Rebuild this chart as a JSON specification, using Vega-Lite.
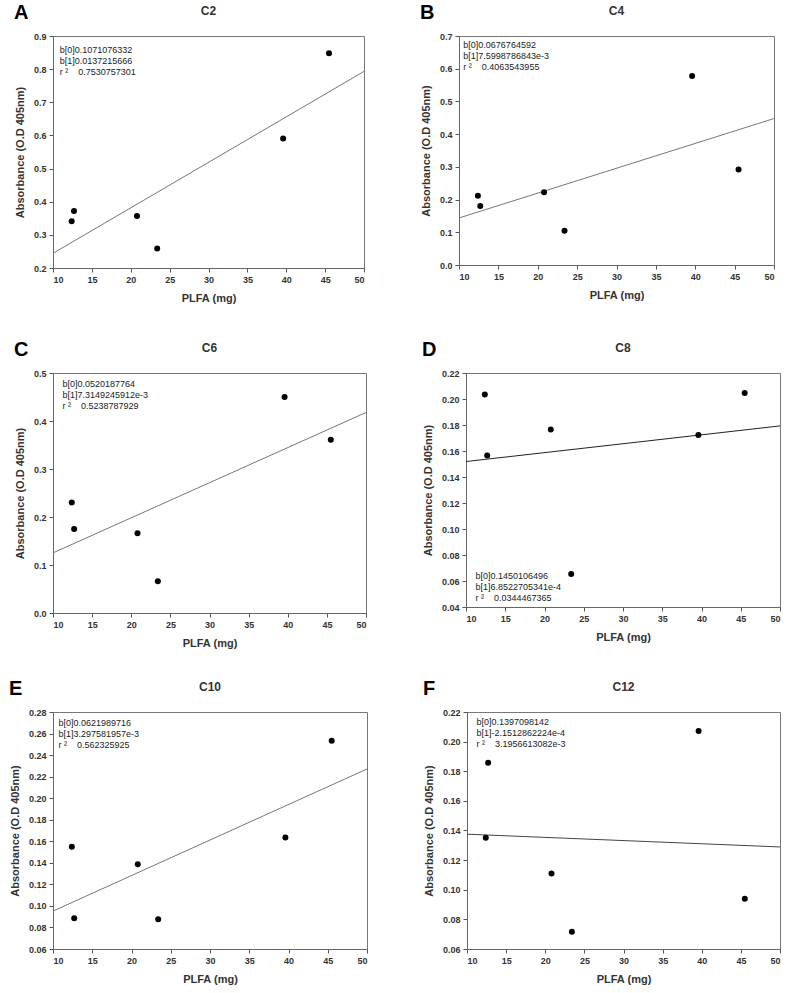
{
  "$schema": "https://vega.github.io/schema/vega-lite/v6.json",
  "background": "white",
  "padding": {"left": 8, "top": 2, "right": 5, "bottom": 2},
  "config": {
    "font": "Liberation Sans",
    "view": {"stroke": "#777", "strokeWidth": 1},
    "axis": {
      "labelFont": "Liberation Sans", "labelFontSize": 9, "labelFontWeight": "bold", "labelColor": "#333", "labelOverlap": false,
      "titleFont": "Liberation Sans", "titleFontSize": 11, "titleFontWeight": "bold", "titleColor": "#333",
      "grid": false, "tickColor": "#555", "domainColor": "#666", "tickSize": 4, "labelPadding": 3, "titlePadding": 8
    },
    "axisX": {"tickCount": 9, "labelOverlap": false},
    "title": {"font": "Liberation Sans", "fontSize": 12, "fontWeight": "bold", "color": "#333"}
  },
  "datasets": {
    "points": [
      {"panel": "C2", "plfa": 12.4, "abs": 0.341}, {"panel": "C2", "plfa": 12.7, "abs": 0.372}, {"panel": "C2", "plfa": 20.8, "abs": 0.357}, {"panel": "C2", "plfa": 23.4, "abs": 0.259}, {"panel": "C2", "plfa": 39.6, "abs": 0.591}, {"panel": "C2", "plfa": 45.5, "abs": 0.848},
      {"panel": "C4", "plfa": 12.4, "abs": 0.212}, {"panel": "C4", "plfa": 12.7, "abs": 0.180}, {"panel": "C4", "plfa": 20.8, "abs": 0.222}, {"panel": "C4", "plfa": 23.4, "abs": 0.105}, {"panel": "C4", "plfa": 39.6, "abs": 0.578}, {"panel": "C4", "plfa": 45.5, "abs": 0.292},
      {"panel": "C6", "plfa": 12.4, "abs": 0.230}, {"panel": "C6", "plfa": 12.7, "abs": 0.175}, {"panel": "C6", "plfa": 20.8, "abs": 0.166}, {"panel": "C6", "plfa": 23.4, "abs": 0.066}, {"panel": "C6", "plfa": 39.6, "abs": 0.450}, {"panel": "C6", "plfa": 45.5, "abs": 0.361},
      {"panel": "C8", "plfa": 12.4, "abs": 0.2035}, {"panel": "C8", "plfa": 12.7, "abs": 0.1565}, {"panel": "C8", "plfa": 20.8, "abs": 0.1765}, {"panel": "C8", "plfa": 23.4, "abs": 0.0653}, {"panel": "C8", "plfa": 39.6, "abs": 0.1724}, {"panel": "C8", "plfa": 45.5, "abs": 0.2046},
      {"panel": "C10", "plfa": 12.4, "abs": 0.1548}, {"panel": "C10", "plfa": 12.7, "abs": 0.0885}, {"panel": "C10", "plfa": 20.8, "abs": 0.1387}, {"panel": "C10", "plfa": 23.4, "abs": 0.0876}, {"panel": "C10", "plfa": 39.6, "abs": 0.1635}, {"panel": "C10", "plfa": 45.5, "abs": 0.2534},
      {"panel": "C12", "plfa": 12.4, "abs": 0.1351}, {"panel": "C12", "plfa": 12.7, "abs": 0.1858}, {"panel": "C12", "plfa": 20.8, "abs": 0.111}, {"panel": "C12", "plfa": 23.4, "abs": 0.0717}, {"panel": "C12", "plfa": 39.6, "abs": 0.2072}, {"panel": "C12", "plfa": 45.5, "abs": 0.0939}
    ],
    "fits": [
      {"panel": "C2", "plfa": 10, "abs": 0.2443}, {"panel": "C2", "plfa": 50, "abs": 0.7932},
      {"panel": "C4", "plfa": 10, "abs": 0.1437}, {"panel": "C4", "plfa": 50, "abs": 0.4477},
      {"panel": "C6", "plfa": 10, "abs": 0.1252}, {"panel": "C6", "plfa": 50, "abs": 0.4177},
      {"panel": "C8", "plfa": 10, "abs": 0.1519}, {"panel": "C8", "plfa": 50, "abs": 0.1793},
      {"panel": "C10", "plfa": 10, "abs": 0.0952}, {"panel": "C10", "plfa": 50, "abs": 0.2271},
      {"panel": "C12", "plfa": 10, "abs": 0.1375}, {"panel": "C12", "plfa": 50, "abs": 0.1289}
    ],
    "stats": [
      {"panel": "C2", "label": "b[0]0.1071076332\nb[1]0.0137215666\nr ²\u00a0\u00a0\u00a0 0.7530757301"},
      {"panel": "C4", "label": "b[0]0.0676764592\nb[1]7.5998786843e-3\nr ²\u00a0\u00a0\u00a0 0.4063543955"},
      {"panel": "C6", "label": "b[0]0.0520187764\nb[1]7.3149245912e-3\nr ²\u00a0\u00a0\u00a0 0.5238787929"},
      {"panel": "C8", "label": "b[0]0.1450106496\nb[1]6.8522705341e-4\nr ²\u00a0\u00a0\u00a0 0.0344467365"},
      {"panel": "C10", "label": "b[0]0.0621989716\nb[1]3.297581957e-3\nr ²\u00a0\u00a0\u00a0 0.562325925"},
      {"panel": "C12", "label": "b[0]0.1397098142\nb[1]-2.1512862224e-4\nr ²\u00a0\u00a0\u00a0 3.1956613082e-3"}
    ]
  },
  "spacing": 35,
  "vconcat": [
    {
      "spacing": 52,
      "hconcat": [
        {
          "title": {"text": "A", "anchor": "start", "fontSize": 20, "fontWeight": "bold", "color": "#000", "offset": -18},
          "vconcat": [{
            "width": 311, "height": 232,
            "title": {"text": "C2", "frame": "group", "offset": 14},
            "layer": [
              {"data": {"name": "fits"}, "transform": [{"filter": "datum.panel === 'C2'"}], "mark": {"type": "line", "color": "#777", "strokeWidth": 1},
               "encoding": {
                 "x": {"field": "plfa", "type": "quantitative", "scale": {"domain": [10, 50], "nice": false}, "axis": {"title": "PLFA (mg)", "values": [10, 15, 20, 25, 30, 35, 40, 45, 50], "tickCount": 9, "labelOverlap": false}},
                 "y": {"field": "abs", "type": "quantitative", "scale": {"domain": [0.2, 0.9], "nice": false, "zero": false}, "axis": {"title": "Absorbance (O.D 405nm)", "values": [0.2, 0.3, 0.4, 0.5, 0.6, 0.7, 0.8, 0.9], "format": ".1f", "labelOverlap": false}}
               }},
              {"data": {"name": "points"}, "transform": [{"filter": "datum.panel === 'C2'"}], "mark": {"type": "circle", "size": 36, "color": "#000", "opacity": 1},
               "encoding": {
                 "x": {"field": "plfa", "type": "quantitative", "axis": {"title": "PLFA (mg)", "values": [10, 15, 20, 25, 30, 35, 40, 45, 50], "tickCount": 9, "labelOverlap": false}},
                 "y": {"field": "abs", "type": "quantitative", "axis": {"title": "Absorbance (O.D 405nm)", "values": [0.2, 0.3, 0.4, 0.5, 0.6, 0.7, 0.8, 0.9], "format": ".1f", "labelOverlap": false}}
               }},
              {"data": {"name": "stats"}, "transform": [{"filter": "datum.panel === 'C2'"}], "mark": {"type": "text", "align": "left", "baseline": "top", "fontSize": 9, "lineHeight": 11, "lineBreak": "\n", "color": "#222"},
               "encoding": {
                 "x": {"datum": 10.86, "type": "quantitative", "axis": {"title": "PLFA (mg)", "values": [10, 15, 20, 25, 30, 35, 40, 45, 50], "tickCount": 9, "labelOverlap": false}},
                 "y": {"datum": 0.87, "type": "quantitative", "axis": {"title": "Absorbance (O.D 405nm)", "values": [0.2, 0.3, 0.4, 0.5, 0.6, 0.7, 0.8, 0.9], "format": ".1f", "labelOverlap": false}},
                 "text": {"field": "label"}}}
            ]
          }]
        },
        {
          "title": {"text": "B", "anchor": "start", "fontSize": 20, "fontWeight": "bold", "color": "#000", "offset": -18},
          "vconcat": [{
            "width": 315, "height": 229,
            "title": {"text": "C4", "frame": "group", "offset": 14},
            "layer": [
              {"data": {"name": "fits"}, "transform": [{"filter": "datum.panel === 'C4'"}], "mark": {"type": "line", "color": "#777", "strokeWidth": 1},
               "encoding": {
                 "x": {"field": "plfa", "type": "quantitative", "scale": {"domain": [10, 50], "nice": false}, "axis": {"title": "PLFA (mg)", "values": [10, 15, 20, 25, 30, 35, 40, 45, 50], "tickCount": 9, "labelOverlap": false}},
                 "y": {"field": "abs", "type": "quantitative", "scale": {"domain": [0, 0.7], "nice": false}, "axis": {"title": "Absorbance (O.D 405nm)", "values": [0, 0.1, 0.2, 0.3, 0.4, 0.5, 0.6, 0.7], "format": ".1f", "labelOverlap": false}}
               }},
              {"data": {"name": "points"}, "transform": [{"filter": "datum.panel === 'C4'"}], "mark": {"type": "circle", "size": 36, "color": "#000", "opacity": 1},
               "encoding": {
                 "x": {"field": "plfa", "type": "quantitative", "axis": {"title": "PLFA (mg)", "values": [10, 15, 20, 25, 30, 35, 40, 45, 50], "tickCount": 9, "labelOverlap": false}},
                 "y": {"field": "abs", "type": "quantitative", "axis": {"title": "Absorbance (O.D 405nm)", "values": [0, 0.1, 0.2, 0.3, 0.4, 0.5, 0.6, 0.7], "format": ".1f", "labelOverlap": false}}
               }},
              {"data": {"name": "stats"}, "transform": [{"filter": "datum.panel === 'C4'"}], "mark": {"type": "text", "align": "left", "baseline": "top", "fontSize": 9, "lineHeight": 11, "lineBreak": "\n", "color": "#222"},
               "encoding": {
                 "x": {"datum": 10.55, "type": "quantitative", "axis": {"title": "PLFA (mg)", "values": [10, 15, 20, 25, 30, 35, 40, 45, 50], "tickCount": 9, "labelOverlap": false}},
                 "y": {"datum": 0.685, "type": "quantitative", "axis": {"title": "Absorbance (O.D 405nm)", "values": [0, 0.1, 0.2, 0.3, 0.4, 0.5, 0.6, 0.7], "format": ".1f", "labelOverlap": false}},
                 "text": {"field": "label"}}}
            ]
          }]
        }
      ]
    },
    {
      "spacing": 29,
      "vconcat": [
        {
          "spacing": 52,
          "hconcat": [
            {
              "title": {"text": "C", "anchor": "start", "fontSize": 20, "fontWeight": "bold", "color": "#000", "offset": -18},
              "vconcat": [{
                "width": 313, "height": 240,
                "title": {"text": "C6", "frame": "group", "offset": 14},
                "layer": [
                  {"data": {"name": "fits"}, "transform": [{"filter": "datum.panel === 'C6'"}], "mark": {"type": "line", "color": "#777", "strokeWidth": 1},
                   "encoding": {
                     "x": {"field": "plfa", "type": "quantitative", "scale": {"domain": [10, 50], "nice": false}, "axis": {"title": "PLFA (mg)", "values": [10, 15, 20, 25, 30, 35, 40, 45, 50], "tickCount": 9, "labelOverlap": false}},
                     "y": {"field": "abs", "type": "quantitative", "scale": {"domain": [0, 0.5], "nice": false}, "axis": {"title": "Absorbance (O.D 405nm)", "values": [0, 0.1, 0.2, 0.3, 0.4, 0.5], "format": ".1f", "labelOverlap": false}}
                   }},
                  {"data": {"name": "points"}, "transform": [{"filter": "datum.panel === 'C6'"}], "mark": {"type": "circle", "size": 36, "color": "#000", "opacity": 1},
                   "encoding": {
                     "x": {"field": "plfa", "type": "quantitative", "axis": {"title": "PLFA (mg)", "values": [10, 15, 20, 25, 30, 35, 40, 45, 50], "tickCount": 9, "labelOverlap": false}},
                     "y": {"field": "abs", "type": "quantitative", "axis": {"title": "Absorbance (O.D 405nm)", "values": [0, 0.1, 0.2, 0.3, 0.4, 0.5], "format": ".1f", "labelOverlap": false}}
                   }},
                  {"data": {"name": "stats"}, "transform": [{"filter": "datum.panel === 'C6'"}], "mark": {"type": "text", "align": "left", "baseline": "top", "fontSize": 9, "lineHeight": 11, "lineBreak": "\n", "color": "#222"},
                   "encoding": {
                     "x": {"datum": 11.2, "type": "quantitative", "axis": {"title": "PLFA (mg)", "values": [10, 15, 20, 25, 30, 35, 40, 45, 50], "tickCount": 9, "labelOverlap": false}},
                     "y": {"datum": 0.485, "type": "quantitative", "axis": {"title": "Absorbance (O.D 405nm)", "values": [0, 0.1, 0.2, 0.3, 0.4, 0.5], "format": ".1f", "labelOverlap": false}},
                     "text": {"field": "label"}}}
                ]
              }]
            },
            {
              "title": {"text": "D", "anchor": "start", "fontSize": 20, "fontWeight": "bold", "color": "#000", "offset": -18},
              "vconcat": [{
                "width": 314, "height": 234,
                "title": {"text": "C8", "frame": "group", "offset": 14},
                "layer": [
                  {"data": {"name": "fits"}, "transform": [{"filter": "datum.panel === 'C8'"}], "mark": {"type": "line", "color": "#222", "strokeWidth": 1},
                   "encoding": {
                     "x": {"field": "plfa", "type": "quantitative", "scale": {"domain": [10, 50], "nice": false}, "axis": {"title": "PLFA (mg)", "values": [10, 15, 20, 25, 30, 35, 40, 45, 50], "tickCount": 9, "labelOverlap": false}},
                     "y": {"field": "abs", "type": "quantitative", "scale": {"domain": [0.04, 0.22], "nice": false, "zero": false}, "axis": {"title": "Absorbance (O.D 405nm)", "values": [0.04, 0.06, 0.08, 0.1, 0.12, 0.14, 0.16, 0.18, 0.2, 0.22], "format": ".2f", "labelOverlap": false}}
                   }},
                  {"data": {"name": "points"}, "transform": [{"filter": "datum.panel === 'C8'"}], "mark": {"type": "circle", "size": 36, "color": "#000", "opacity": 1},
                   "encoding": {
                     "x": {"field": "plfa", "type": "quantitative", "axis": {"title": "PLFA (mg)", "values": [10, 15, 20, 25, 30, 35, 40, 45, 50], "tickCount": 9, "labelOverlap": false}},
                     "y": {"field": "abs", "type": "quantitative", "axis": {"title": "Absorbance (O.D 405nm)", "values": [0.04, 0.06, 0.08, 0.1, 0.12, 0.14, 0.16, 0.18, 0.2, 0.22], "format": ".2f", "labelOverlap": false}}
                   }},
                  {"data": {"name": "stats"}, "transform": [{"filter": "datum.panel === 'C8'"}], "mark": {"type": "text", "align": "left", "baseline": "top", "fontSize": 9, "lineHeight": 11, "lineBreak": "\n", "color": "#222"},
                   "encoding": {
                     "x": {"datum": 11.2, "type": "quantitative", "axis": {"title": "PLFA (mg)", "values": [10, 15, 20, 25, 30, 35, 40, 45, 50], "tickCount": 9, "labelOverlap": false}},
                     "y": {"datum": 0.067, "type": "quantitative", "axis": {"title": "Absorbance (O.D 405nm)", "values": [0.04, 0.06, 0.08, 0.1, 0.12, 0.14, 0.16, 0.18, 0.2, 0.22], "format": ".2f", "labelOverlap": false}},
                     "text": {"field": "label"}}}
                ]
              }]
            }
          ]
        },
        {
          "spacing": 52,
          "hconcat": [
            {
              "title": {"text": "E", "anchor": "start", "fontSize": 20, "fontWeight": "bold", "color": "#000", "offset": -18},
              "vconcat": [{
                "width": 314, "height": 237,
                "title": {"text": "C10", "frame": "group", "offset": 14},
                "layer": [
                  {"data": {"name": "fits"}, "transform": [{"filter": "datum.panel === 'C10'"}], "mark": {"type": "line", "color": "#777", "strokeWidth": 1},
                   "encoding": {
                     "x": {"field": "plfa", "type": "quantitative", "scale": {"domain": [10, 50], "nice": false}, "axis": {"title": "PLFA (mg)", "values": [10, 15, 20, 25, 30, 35, 40, 45, 50], "tickCount": 9, "labelOverlap": false}},
                     "y": {"field": "abs", "type": "quantitative", "scale": {"domain": [0.06, 0.28], "nice": false, "zero": false}, "axis": {"title": "Absorbance (O.D 405nm)", "values": [0.06, 0.08, 0.1, 0.12, 0.14, 0.16, 0.18, 0.2, 0.22, 0.24, 0.26, 0.28], "format": ".2f", "labelOverlap": false}}
                   }},
                  {"data": {"name": "points"}, "transform": [{"filter": "datum.panel === 'C10'"}], "mark": {"type": "circle", "size": 36, "color": "#000", "opacity": 1},
                   "encoding": {
                     "x": {"field": "plfa", "type": "quantitative", "axis": {"title": "PLFA (mg)", "values": [10, 15, 20, 25, 30, 35, 40, 45, 50], "tickCount": 9, "labelOverlap": false}},
                     "y": {"field": "abs", "type": "quantitative", "axis": {"title": "Absorbance (O.D 405nm)", "values": [0.06, 0.08, 0.1, 0.12, 0.14, 0.16, 0.18, 0.2, 0.22, 0.24, 0.26, 0.28], "format": ".2f", "labelOverlap": false}}
                   }},
                  {"data": {"name": "stats"}, "transform": [{"filter": "datum.panel === 'C10'"}], "mark": {"type": "text", "align": "left", "baseline": "top", "fontSize": 9, "lineHeight": 11, "lineBreak": "\n", "color": "#222"},
                   "encoding": {
                     "x": {"datum": 10.7, "type": "quantitative", "axis": {"title": "PLFA (mg)", "values": [10, 15, 20, 25, 30, 35, 40, 45, 50], "tickCount": 9, "labelOverlap": false}},
                     "y": {"datum": 0.2735, "type": "quantitative", "axis": {"title": "Absorbance (O.D 405nm)", "values": [0.06, 0.08, 0.1, 0.12, 0.14, 0.16, 0.18, 0.2, 0.22, 0.24, 0.26, 0.28], "format": ".2f", "labelOverlap": false}},
                     "text": {"field": "label"}}}
                ]
              }]
            },
            {
              "title": {"text": "F", "anchor": "start", "fontSize": 20, "fontWeight": "bold", "color": "#000", "offset": -18},
              "vconcat": [{
                "width": 313, "height": 237,
                "title": {"text": "C12", "frame": "group", "offset": 14},
                "layer": [
                  {"data": {"name": "fits"}, "transform": [{"filter": "datum.panel === 'C12'"}], "mark": {"type": "line", "color": "#444", "strokeWidth": 1},
                   "encoding": {
                     "x": {"field": "plfa", "type": "quantitative", "scale": {"domain": [10, 50], "nice": false}, "axis": {"title": "PLFA (mg)", "values": [10, 15, 20, 25, 30, 35, 40, 45, 50], "tickCount": 9, "labelOverlap": false}},
                     "y": {"field": "abs", "type": "quantitative", "scale": {"domain": [0.06, 0.22], "nice": false, "zero": false}, "axis": {"title": "Absorbance (O.D 405nm)", "values": [0.06, 0.08, 0.1, 0.12, 0.14, 0.16, 0.18, 0.2, 0.22], "format": ".2f", "labelOverlap": false}}
                   }},
                  {"data": {"name": "points"}, "transform": [{"filter": "datum.panel === 'C12'"}], "mark": {"type": "circle", "size": 36, "color": "#000", "opacity": 1},
                   "encoding": {
                     "x": {"field": "plfa", "type": "quantitative", "axis": {"title": "PLFA (mg)", "values": [10, 15, 20, 25, 30, 35, 40, 45, 50], "tickCount": 9, "labelOverlap": false}},
                     "y": {"field": "abs", "type": "quantitative", "axis": {"title": "Absorbance (O.D 405nm)", "values": [0.06, 0.08, 0.1, 0.12, 0.14, 0.16, 0.18, 0.2, 0.22], "format": ".2f", "labelOverlap": false}}
                   }},
                  {"data": {"name": "stats"}, "transform": [{"filter": "datum.panel === 'C12'"}], "mark": {"type": "text", "align": "left", "baseline": "top", "fontSize": 9, "lineHeight": 11, "lineBreak": "\n", "color": "#222"},
                   "encoding": {
                     "x": {"datum": 11.2, "type": "quantitative", "axis": {"title": "PLFA (mg)", "values": [10, 15, 20, 25, 30, 35, 40, 45, 50], "tickCount": 9, "labelOverlap": false}},
                     "y": {"datum": 0.216, "type": "quantitative", "axis": {"title": "Absorbance (O.D 405nm)", "values": [0.06, 0.08, 0.1, 0.12, 0.14, 0.16, 0.18, 0.2, 0.22], "format": ".2f", "labelOverlap": false}},
                     "text": {"field": "label"}}}
                ]
              }]
            }
          ]
        }
      ]
    }
  ]
}
